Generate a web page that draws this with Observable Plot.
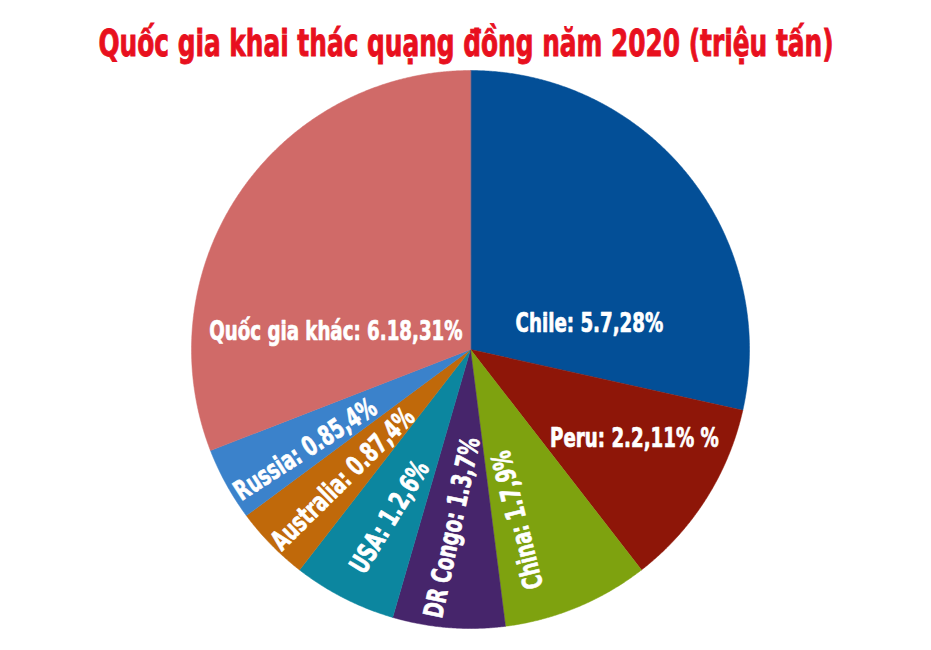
<!DOCTYPE html>
<html>
<head>
<meta charset="utf-8">
<script src="https://cdn.jsdelivr.net/npm/d3@7"></script>
<script src="https://cdn.jsdelivr.net/npm/@observablehq/plot@0.6"></script>
<style>
  html, body { margin: 0; padding: 0; background: #fff; }
  #title {
    position: relative; width: 931px; height: 68px; overflow: visible;
    font-family: "DejaVu Sans", sans-serif; font-stretch: condensed;
    font-weight: bold; font-size: 38px; color: #e8101e;
    line-height: 68px; white-space: nowrap;
  }
  #title span {
    position: absolute; left: 466px; top: 9px;
    transform: translateX(-50%) scaleX(0.726); transform-origin: center;
    -webkit-text-stroke: 0.9px #e8101e;
  }
  svg text { font-family: "DejaVu Sans", sans-serif; font-stretch: condensed; }
</style>
</head>
<body>
<div id="title"><span>Quốc gia khai thác quạng đồng năm 2020 (triệu tấn)</span></div>
<div id="chart"></div>
<script>
// ---- data ----
const countries = ["Chile", "Peru", "China", "DR Congo", "USA", "Australia", "Russia", "Quốc gia khác"];
const values = [5.7, 2.2, 1.7, 1.3, 1.2, 0.87, 0.85, 6.18];
const shares = ["28%", "11% %", "9%", "7%", "6%", "4%", "4%", "31%"];
const colors = ["#034f97", "#8e1608", "#7ea20f", "#46256b", "#0c869f", "#c0690a", "#3b82cb", "#d06a68"];

// ---- label layout (style) ----
const labelLayout = {
  "Chile":         {frac: 0.436, shift: 26.5, rotate: 0},
  "Peru":          {frac: 0.668, shift: -4,   rotate: 0},
  "China":         {frac: 0.634, shift: 7,    rotate: -104},
  "DR Congo":      {frac: 0.642, shift: 1.3,  rotate: -78},
  "USA":           {frac: 0.667, shift: -1.3, rotate: -58.6},
  "Australia":     {frac: 0.652, shift: -1.1, rotate: -44.6},
  "Russia":        {frac: 0.692, shift: -2.3, rotate: -32.9},
  "Quốc gia khác": {frac: 0.487, shift: -26.5, rotate: 0}
};
const labelScaleX = 0.75;

const rows = countries.map((c, i) => ({name: c, value: values[i], share: shares[i]}));
const arcs = d3.pie().sort(null).value(d => d.value)(rows);

const pts = [];
for (const a of arcs) {
  const name = a.data.name;
  pts.push({name, x: 0, y: 0});
  const n = Math.max(2, Math.ceil((a.endAngle - a.startAngle) / 0.005));
  for (let k = 0; k <= n; k++) {
    const t = a.startAngle + (a.endAngle - a.startAngle) * k / n;
    pts.push({name, x: Math.sin(t), y: Math.cos(t)});
  }
}

const labels = arcs.map(a => {
  const L = labelLayout[a.data.name];
  const mid = (a.startAngle + a.endAngle) / 2 + L.shift * Math.PI / 180;
  return {
    name: a.data.name,
    text: `${a.data.name}: ${a.data.value},${a.data.share}`,
    x: L.frac * Math.sin(mid),
    y: L.frac * Math.cos(mid),
    rotate: L.rotate
  };
});

const W = 931, H = 582, cx = 470, cy = 281, R = 279;

const chart = Plot.plot({
  width: W, height: H,
  margin: 0,
  x: {domain: [-1, 1], range: [cx - R, cx + R], axis: null},
  y: {domain: [-1, 1], range: [cy + R, cy - R], axis: null},
  color: {domain: countries, range: colors},
  marks: [
    Plot.line(pts, {x: "x", y: "y", z: "name", fill: "name", stroke: "name", strokeWidth: 0.5, curve: "linear-closed"}),
    Plot.text(labels, {
      x: "x", y: "y", text: "text", rotate: "rotate",
      fill: "white", stroke: "white", strokeWidth: 0.7,
      fontSize: 27, fontWeight: "bold",
      fontFamily: "DejaVu Sans", textAnchor: "middle", lineAnchor: "middle"
    })
  ]
});
chart.querySelectorAll('g[aria-label="text"] text').forEach(t => {
  const tr = t.getAttribute("transform") || "";
  t.setAttribute("transform", tr + ` scale(${labelScaleX},1)`);
});
document.getElementById("chart").appendChild(chart);
</script>
</body>
</html>
